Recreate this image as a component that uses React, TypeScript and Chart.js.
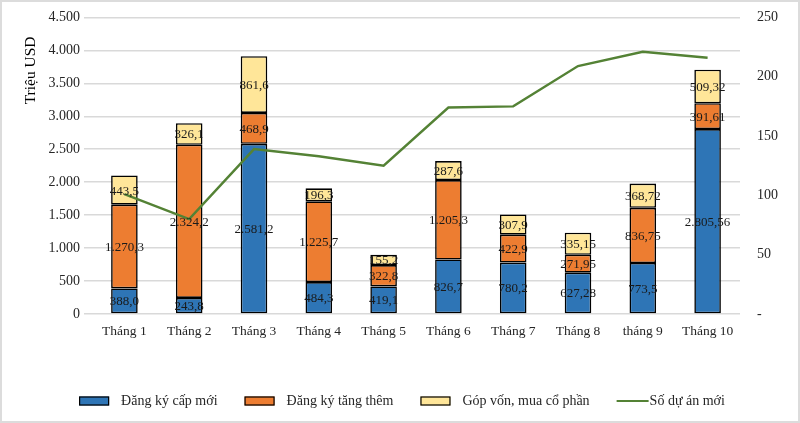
import { useEffect, useRef } from 'react';
import { Chart, registerables } from 'chart.js';

Chart.register(...registerables);

const categories = ['Tháng 1', 'Tháng 2', 'Tháng 3', 'Tháng 4', 'Tháng 5', 'Tháng 6', 'Tháng 7', 'Tháng 8', 'tháng 9', 'Tháng 10'];
const dangKyCapMoi = [388.0, 243.8, 2581.2, 484.3, 419.1, 826.7, 780.2, 627.28, 773.5, 2805.56];
const dangKyTangThem = [1270.3, 2324.2, 468.9, 1225.7, 322.8, 1205.3, 422.9, 271.95, 836.75, 391.61];
const gopVonMuaCoPhan = [443.5, 326.1, 861.6, 196.3, 155.2, 287.6, 307.9, 335.15, 368.72, 509.32];
const soDuAnMoi = [101, 80, 139, 133, 125, 174, 175, 209, 221, 216];

const seriesLabels = ['Đăng ký cấp mới', 'Đăng ký tăng thêm', 'Góp vốn, mua cổ phần', 'Số dự án mới'];
const yAxisTitle = 'Triệu USD';
const leftAxisMax = 4500;
const leftAxisStep = 500;
const rightAxisMax = 250;
const rightAxisStep = 50;

const FONT = '"Liberation Serif", "Times New Roman", serif';
const TEXT = '#262626';

function groupThousands(intPart: string): string {
  return intPart.replace(/\B(?=(\d{3})+(?!\d))/g, '.');
}

function fmtVN(v: number, minFrac: number, maxFrac: number): string {
  const s = v.toFixed(maxFrac);
  if (maxFrac > 0) {
    let [i, d] = s.split('.');
    while (d.length > minFrac && d.endsWith('0')) d = d.slice(0, -1);
    return groupThousands(i) + (d.length ? ',' + d : '');
  }
  return groupThousands(s);
}

const barLabelPlugin = {
  id: 'barLabels',
  afterDatasetsDraw(chart: any) {
    const ctx = chart.ctx;
    ctx.save();
    ctx.font = `13px ${FONT}`;
    ctx.fillStyle = '#1a1a1a';
    ctx.textAlign = 'center';
    ctx.textBaseline = 'middle';
    chart.data.datasets.forEach((ds: any, di: number) => {
      if (ds.type === 'line') return;
      const meta = chart.getDatasetMeta(di);
      meta.data.forEach((el: any, i: number) => {
        const { x, y, base } = el.getProps(['x', 'y', 'base'], true);
        ctx.fillText(fmtVN(ds.data[i], 1, 2), x, (y + base) / 2 + 1);
      });
    });
    ctx.restore();
  },
};

const yTitlePlugin = {
  id: 'yTitle',
  afterDraw(chart: any) {
    const ctx = chart.ctx;
    const area = chart.chartArea;
    ctx.save();
    ctx.font = `15.5px ${FONT}`;
    ctx.fillStyle = '#000';
    ctx.textAlign = 'center';
    ctx.textBaseline = 'middle';
    ctx.translate(31, area.top + 53);
    ctx.rotate(-Math.PI / 2);
    ctx.fillText(yAxisTitle, 0, 0);
    ctx.restore();
  },
};

const legendPlugin = {
  id: 'customLegend',
  afterDraw(chart: any) {
    const ctx = chart.ctx;
    ctx.save();
    ctx.font = `14px ${FONT}`;
    const boxW = 30, boxH = 9, boxGap = 12, lineW = 32, lineGap = 1, itemGap = 27;
    const items = chart.data.datasets.map((ds: any) => ({
      label: ds.label,
      isLine: ds.type === 'line',
      bg: ds.backgroundColor,
      border: ds.borderColor,
    }));
    const widths = items.map((it: any) => (it.isLine ? lineW + lineGap : boxW + boxGap) + ctx.measureText(it.label).width);
    const total = widths.reduce((a: number, b: number) => a + b, 0) + itemGap * (items.length - 1);
    let x = (chart.width - total) / 2 + 2;
    const y = 401;
    ctx.textBaseline = 'middle';
    ctx.textAlign = 'left';
    items.forEach((it: any, i: number) => {
      if (it.isLine) {
        ctx.strokeStyle = it.border;
        ctx.lineWidth = 2;
        ctx.beginPath();
        ctx.moveTo(x, y);
        ctx.lineTo(x + lineW, y);
        ctx.stroke();
        ctx.fillStyle = TEXT;
        ctx.fillText(it.label, x + lineW + lineGap, y);
      } else {
        ctx.fillStyle = it.bg;
        ctx.fillRect(x, y - boxH / 2, boxW, boxH);
        ctx.strokeStyle = '#000';
        ctx.lineWidth = 1.2;
        ctx.strokeRect(x + 0.5, y - boxH / 2 + 0.5, boxW - 1, boxH - 1);
        ctx.fillStyle = TEXT;
        ctx.fillText(it.label, x + boxW + boxGap, y);
      }
      x += widths[i] + itemGap;
    });
    ctx.restore();
  },
};

export default function App() {
  const canvasRef = useRef<HTMLCanvasElement | null>(null);

  useEffect(() => {
    document.body.style.margin = '0';
    const canvas = canvasRef.current;
    if (!canvas) return;
    const barBase = {
      type: 'bar',
      borderColor: '#000000',
      borderWidth: 1.6,
      borderSkipped: false,
      stack: 's',
      yAxisID: 'y',
      order: 1,
    };
    const chart = new Chart(canvas, {
      type: 'bar',
      data: {
        labels: categories,
        datasets: [
          { ...barBase, label: seriesLabels[0], data: dangKyCapMoi, backgroundColor: '#2E75B6' },
          { ...barBase, label: seriesLabels[1], data: dangKyTangThem, backgroundColor: '#ED7D31' },
          { ...barBase, label: seriesLabels[2], data: gopVonMuaCoPhan, backgroundColor: '#FFE699' },
          {
            type: 'line',
            label: seriesLabels[3],
            data: soDuAnMoi,
            borderColor: '#548235',
            backgroundColor: '#548235',
            borderWidth: 2.4,
            pointRadius: 0,
            tension: 0,
            yAxisID: 'y1',
            order: 0,
          },
        ] as any,
      },
      options: {
        animation: false,
        responsive: false,
        maintainAspectRatio: false,
        devicePixelRatio: 1,
        layout: { padding: { top: 13, left: 0, right: 0, bottom: 0 } },
        datasets: { bar: { categoryPercentage: 1, barPercentage: 0.41 } },
        plugins: {
          legend: { display: false },
          tooltip: { enabled: false },
          title: { display: false },
        },
        scales: {
          x: {
            stacked: true,
            grid: { display: false },
            border: { display: false },
            ticks: { color: TEXT, font: { family: FONT, size: 13.5 }, padding: 1, maxRotation: 0 },
            afterFit: (scale: any) => { scale.height = 109; },
          },
          y: {
            stacked: true,
            position: 'left',
            min: 0,
            max: leftAxisMax,
            grid: { color: '#d9d9d9', lineWidth: 1.5 },
            border: { display: false },
            ticks: {
              stepSize: leftAxisStep,
              color: TEXT,
              font: { family: FONT, size: 14 },
              padding: 4,
              callback: (v: any) => groupThousands(String(v)),
            },
            afterFit: (scale: any) => { scale.width = 92; },
          },
          y1: {
            position: 'right',
            min: 0,
            max: rightAxisMax,
            grid: { display: false },
            border: { display: false },
            ticks: {
              stepSize: rightAxisStep,
              color: TEXT,
              font: { family: FONT, size: 14 },
              padding: 9,
              callback: (v: any) => (v === 0 ? '-' : String(v)),
            },
            afterFit: (scale: any) => { scale.width = 60; },
          },
        },
      } as any,
      plugins: [barLabelPlugin, yTitlePlugin, legendPlugin],
    });
    return () => chart.destroy();
  }, []);

  return (
    <div style={{ position: 'relative', width: 800, height: 423, background: '#fff' }}>
      <canvas ref={canvasRef} width={800} height={423} style={{ display: 'block', width: 800, height: 423 }} />
      <div
        style={{
          position: 'absolute',
          left: 0,
          top: 0,
          width: 800,
          height: 423,
          boxSizing: 'border-box',
          border: '2px solid #dcdcdc',
          pointerEvents: 'none',
        }}
      />
    </div>
  );
}
